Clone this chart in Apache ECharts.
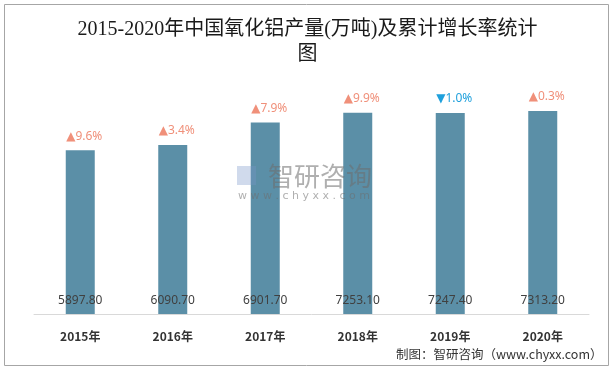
<!DOCTYPE html>
<html><head><meta charset="utf-8">
<script src="https://cdn.jsdelivr.net/npm/echarts@6/dist/echarts.min.js"></script>
<style>html,body{margin:0;padding:0;background:#fff}#c{width:615px;height:370px}</style>
</head><body><div id="c"></div>
<script>
const categories = ['2015年','2016年','2017年','2018年','2019年','2020年'];
const production = [5897.8, 6090.7, 6901.7, 7253.1, 7247.4, 7313.2];
const growth = [9.6, 3.4, 7.9, 9.9, -1.0, 0.3];

const chart = echarts.init(document.getElementById('c'));
const upColor = '#F0907A', downColor = '#1FA0DC';
chart.setOption({
  animation: false,
  backgroundColor: '#fff',
  title: {
    text: '2015-2020年中国氧化铝产量(万吨)及累计增长率统计\n图',
    left: 'center', top: 12,
    textStyle: {fontFamily: '"Liberation Serif","Noto Sans CJK SC",serif', fontSize: 20, fontWeight: 'normal', color: '#1a1a1a', lineHeight: 25}
  },
  graphic: [
    {type: 'rect', shape: {x: 4.5, y: 4.5, width: 604, height: 361}, style: {fill: 'none', stroke: '#a6a6a6', lineWidth: 1}, silent: true, z: -1},
    {type: 'text', left: 396, top: 348, style: {text: '制图：智研咨询（www.chyxx.com）', fontSize: 12.5, fill: '#333', fontFamily: '"Noto Sans CJK SC",sans-serif'}},
    {type: 'rect', z: 100, silent: true, shape: {x: 237, y: 166, width: 19, height: 19}, style: {fill: 'rgba(120,150,200,0.35)'}},
    {type: 'text', z: 100, silent: true, x: 268, y: 163, style: {text: '智研咨询', fontSize: 26, fill: 'rgba(110,110,110,0.55)', fontFamily: '"Noto Sans CJK SC",sans-serif'}},
    {type: 'text', z: 100, silent: true, x: 238, y: 191, style: {text: 'w w w . c h y x x . c o m', fontSize: 11, fill: 'rgba(110,110,110,0.55)', fontFamily: '"DejaVu Sans",sans-serif'}}
  ],
  grid: {left: 34, right: 26, top: 92, bottom: 56},
  xAxis: {
    type: 'category', data: categories,
    axisLine: {lineStyle: {color: '#d9d9d9'}},
    axisTick: {show: false},
    axisLabel: {margin: 16, fontSize: 12, fontWeight: 'bold', color: '#333', fontFamily: '"Noto Sans CJK SC",sans-serif'}
  },
  yAxis: {type: 'value', min: 0, max: 8000, show: false, splitLine: {show: false}},
  series: [
    {
      type: 'bar', data: production, barWidth: 29,
      itemStyle: {color: '#5B8FA7'},
      label: {show: true, position: 'insideBottom', distance: 7, fontSize: 12, color: '#404040',
        fontFamily: '"Noto Sans","DejaVu Sans",sans-serif',
        formatter: p => p.value.toFixed(2)}
    },
    {
      type: 'bar', data: production, barWidth: 29, barGap: '-100%',
      itemStyle: {color: 'transparent'}, silent: true,
      label: {show: true, position: 'top', distance: 8, fontSize: 12, offset: [4, 0],
        fontFamily: '"Noto Sans","DejaVu Sans",sans-serif',
        formatter: p => {
          const g = growth[p.dataIndex];
          return g >= 0 ? '{u|▲' + g.toFixed(1) + '%}' : '{d|▼' + Math.abs(g).toFixed(1) + '%}';
        },
        rich: {u: {color: upColor, fontSize: 12}, d: {color: downColor, fontSize: 12}}
      }
    }
  ]
});
</script></body></html>
